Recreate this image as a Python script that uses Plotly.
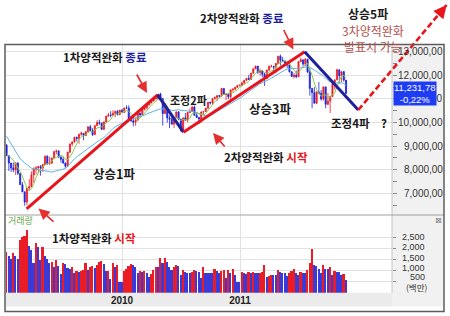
import pandas as pd
import plotly.graph_objects as go

W, H = 450, 316

# ---------------- data (weekly) ----------------
first_week = "2009-01-09"
# closes of the 20 weeks before the first visible week (only feed the moving averages)
pre_close = [11628, 11543, 11220, 11421, 11388, 11143, 10325, 8451, 8852, 8378,
             9325, 8943, 8497, 8046, 8829, 8635, 8629, 8579, 8515, 9034]

open_ = [9034, 8599, 8281, 8077, 8000, 8280, 7850, 7366, 7063, 6627,
         7224, 7278, 7776, 8018, 8083, 8131, 8076, 8212, 8575, 8268,
         8277, 8500, 8764, 8799, 8539, 8438, 8280, 8146, 8743, 9093,
         9171, 9370, 9321, 9505, 9544, 9441, 9605, 9820, 9665, 9487,
         9864, 9995, 9972, 9712, 10023, 10270, 10318, 10309, 10388, 10471,
         10328, 10520,
         10428, 10618, 10610, 10172, 10067, 10012, 10099, 10402, 10325, 10566,
         10625, 10742, 10850, 10927, 10997, 11019, 11204, 11009, 10380, 10620,
         10193, 10137, 9931, 10212, 10450, 10144, 9686, 10198, 10097, 10425,
         10466, 10654, 10303, 10214, 10150, 10448, 10462, 10608, 10860, 10829,
         11006, 11063, 11133, 11118, 11444, 11193, 11204, 11092, 11382, 11410,
         11492, 11573,
         11578, 11675, 11787, 11872, 11824, 12092, 12273, 12391, 12130, 12170,
         12044, 11859, 12221, 12377, 12380, 12342, 12505, 12810, 12638, 12596,
         12512, 12441, 12151, 11952, 12004, 11934, 12582, 12657, 12480, 12681,
         12143, 11445, 11269, 10818, 11285, 11240, 10992, 11509, 10771, 10913,
         11103, 11644, 11809, 12231, 11983, 12153, 11796]
high = [9088, 8600, 8290, 8300, 8315, 8320, 7860, 7480, 7063, 7240,
        7600, 7930, 8100, 8150, 8160, 8200, 8250, 8600, 8600, 8550,
        8500, 8800, 8850, 8800, 8560, 8560, 8300, 8760, 9100, 9200,
        9400, 9400, 9520, 9620, 9550, 9640, 9830, 9900, 9760, 9900,
        10100, 10120, 10000, 10050, 10290, 10410, 10480, 10520, 10500, 10530,
        10540, 10580,
        10620, 10730, 10730, 10300, 10310, 10200, 10420, 10410, 10590, 10640,
        10780, 10900, 10930, 11000, 11150, 11210, 11260, 11030, 10800, 10630,
        10300, 10340, 10220, 10470, 10480, 10150, 10200, 10400, 10430, 10590,
        10700, 10720, 10450, 10230, 10460, 10470, 10620, 10870, 10880, 11040,
        11100, 11160, 11170, 11450, 11450, 11240, 11230, 11400, 11450, 11520,
        11580, 11600,
        11740, 11800, 11880, 12020, 12100, 12280, 12400, 12391, 12280, 12230,
        12100, 12240, 12420, 12450, 12400, 12520, 12820, 12880, 12780, 12640,
        12530, 12570, 12160, 12110, 12200, 12590, 12750, 12660, 12740, 12690,
        12300, 11450, 11500, 11320, 11720, 11380, 11520, 11510, 11250, 11140,
        11650, 11810, 12280, 12240, 12160, 12190, 11800]
low = [8570, 7950, 7909, 7900, 7771, 7770, 7365, 7050, 6470, 6500,
       7100, 7270, 7450, 7800, 7850, 7750, 7900, 8200, 8200, 8200,
       8250, 8480, 8650, 8500, 8300, 8250, 8087, 8140, 8700, 9000,
       9150, 9200, 9100, 9440, 9250, 9430, 9600, 9650, 9430, 9480,
       9860, 9900, 9680, 9680, 10010, 10260, 10220, 10300, 10230, 10300,
       10320, 10420,
       10420, 10580, 10160, 10040, 9840, 9860, 10090, 10200, 10320, 10500,
       10560, 10730, 10800, 10880, 10990, 10980, 10970, 9870, 10360, 9990,
       9760, 9920, 9760, 10180, 10100, 9610, 9670, 10090, 10000, 10410,
       10460, 10300, 10200, 9940, 9990, 10330, 10460, 10590, 10760, 10740,
       10980, 10900, 11050, 11100, 11180, 10950, 10990, 10930, 11300, 11380,
       11460, 11530,
       11570, 11610, 11760, 11820, 11820, 12080, 12260, 12060, 11990, 11930,
       11550, 11850, 12200, 12330, 12190, 12090, 12480, 12410, 12560, 12480,
       12300, 12120, 11940, 11860, 11880, 11930, 12550, 12380, 12380, 12100,
       11140, 10600, 10800, 10780, 11230, 10930, 10930, 10600, 10730, 10400,
       11100, 11400, 11790, 11650, 11700, 11730, 11230]
close = [8599, 8281, 8077, 8000, 8280, 7850, 7366, 7063, 6627, 7224,
         7278, 7776, 8018, 8083, 8131, 8076, 8212, 8575, 8268, 8277,
         8500, 8764, 8799, 8539, 8438, 8280, 8146, 8743, 9093, 9171,
         9370, 9321, 9505, 9544, 9441, 9605, 9820, 9665, 9487, 9864,
         9995, 9972, 9712, 10023, 10270, 10318, 10309, 10388, 10471, 10328,
         10520, 10428,
         10618, 10610, 10172, 10067, 10012, 10099, 10402, 10325, 10566, 10625,
         10742, 10850, 10927, 10997, 11019, 11204, 11009, 10380, 10620, 10193,
         10137, 9931, 10212, 10450, 10144, 9686, 10198, 10097, 10425, 10466,
         10654, 10303, 10214, 10150, 10448, 10462, 10608, 10860, 10829, 11006,
         11063, 11133, 11118, 11444, 11193, 11204, 11092, 11382, 11410, 11492,
         11573, 11578,
         11675, 11787, 11872, 11824, 12092, 12273, 12391, 12130, 12170, 12044,
         11859, 12221, 12377, 12380, 12342, 12505, 12810, 12638, 12596, 12512,
         12441, 12151, 11952, 12004, 11934, 12582, 12657, 12480, 12681, 12143,
         11445, 11269, 10818, 11285, 11240, 10992, 11509, 10771, 10913, 11103,
         11644, 11809, 12231, 11983, 12153, 11796, 11232]
volume = [1850, 1650, 1500, 1775, 1650, 1500, 2380, 2500, 2560, 2830,
          2100, 1925, 1320, 2250, 2045, 1475, 2045, 1650, 1500, 1320,
          1370, 1170, 1475, 1200, 840, 1320, 1280, 1130, 1070, 1140,
          900, 990, 950, 990, 1020, 1350, 1020, 1140, 1220, 1100,
          1250, 1380, 1440, 1290, 980, 990, 620, 1320, 1140, 1250,
          500, 500,
          990, 1050, 1220, 1280, 1260, 1170, 900, 990, 950, 990,
          870, 690, 840, 1020, 1170, 1170, 1550, 1320, 1550, 1370,
          1170, 1020, 1140, 1250, 1220, 800, 1020, 950, 900,
          870, 950, 1020, 990, 950, 650, 1140, 870, 870, 870,
          870, 1070, 990, 900, 990, 1020, 680, 1020, 870, 1050,
          800, 500, 500,
          950, 870, 840, 950, 870, 950, 900, 870, 900, 920,
          1250, 720, 750, 800, 800, 800, 1020, 950, 900, 900,
          770, 870, 990, 1070, 870, 800, 920, 870, 870, 1020,
          1320, 1970, 1250, 1200, 1090, 870, 1250, 1090, 1070, 1170,
          800, 990, 950, 920, 800, 830, 570]

price_ticks = [13000, 12000, 11000, 10000, 9000, 8000, 7000]
price_tick_labels = ["13,000,00", "12,000,00", "11,000,00", "10,000,00",
                     "9,000,00", "8,000,00", "7,000,00"]
vol_ticks = [500, 1000, 1500, 2000, 2500]
vol_tick_labels = ["2,500", "2,000", "1,500", "1,000", "500", "(백만)"]
year_ticks = ["2010-01-01", "2011-01-01"]
year_labels = ["2010", "2011"]

# drawn wave lines (dates / index levels)
wave_dates = ["2009-03-12", "2010-04-21", "2010-07-10", "2011-07-20", "2012-01-02"]
wave_prices = [6340, 11170, 9590, 13000, 10530]
target_date, target_price = "2012-10-01", 14980
last_price_text = "11,231,78<br>-0,22%"

# ---------------- geometry (pixels of the 450x316 page) ----------------
PLOT_L, PLOT_R = 6, 392
PRICE_T, PRICE_B, VOL_B = 44.5, 215, 292.7
X_ANCHOR_PX, X_ANCHOR_DATE, PX_PER_DAY = 122, pd.Timestamp("2010-01-01"), 118 / 365
P_ANCHOR_PX, P_ANCHOR, PX_PER_PT = 51.7, 13000, 23.6 / 1000
VOL_PX_PER_UNIT = 11.08 / 500


def fx(px):
    return px / W


def fy(py):
    return 1 - py / H


def px2date(px):
    return (X_ANCHOR_DATE + pd.Timedelta(days=(px - X_ANCHOR_PX) / PX_PER_DAY)).strftime("%Y-%m-%d %H:%M:%S")


def py2price(py):
    return P_ANCHOR - (py - P_ANCHOR_PX) / PX_PER_PT


dates = pd.date_range(first_week, periods=len(close), freq="7D")
all_close = pd.Series(pre_close + close, dtype=float)
ma5 = all_close.rolling(5).mean().iloc[len(pre_close):].to_numpy()
ma20 = all_close.rolling(20).mean().iloc[len(pre_close):].to_numpy()

RED, BLUE = "#ec1c24", "#1c22d8"
vol_colors = [RED if i == 0 or volume[i] > volume[i - 1] else "#3a3ad6" for i in range(len(volume))]

KR = "Noto Sans CJK KR"
NUM = "Liberation Sans"

fig = go.Figure()
fig.add_trace(go.Candlestick(
    x=dates, open=open_, high=high, low=low, close=close,
    increasing=dict(line=dict(color=RED, width=0.8), fillcolor=RED),
    decreasing=dict(line=dict(color=BLUE, width=0.8), fillcolor=BLUE),
    whiskerwidth=0, xaxis="x", yaxis="y", hoverinfo="skip"))
fig.add_trace(go.Scatter(x=dates, y=ma20, mode="lines", line=dict(color="#5bb2e6", width=1),
                         xaxis="x", yaxis="y", hoverinfo="skip"))
fig.add_trace(go.Scatter(x=dates, y=ma5, mode="lines", line=dict(color="#8cc84b", width=1),
                         xaxis="x", yaxis="y", hoverinfo="skip"))
fig.add_trace(go.Bar(x=dates, y=volume, marker=dict(color=vol_colors, line=dict(width=0)),
                     width=5.0 * 86400000, xaxis="x2", yaxis="y2", hoverinfo="skip"))

# wave lines on a full-page overlay axis sharing the same scales
for i in range(len(wave_dates) - 1):
    col = "#e8141c" if wave_prices[i + 1] > wave_prices[i] else "#1f1f9c"
    fig.add_trace(go.Scatter(x=wave_dates[i:i + 2], y=wave_prices[i:i + 2], mode="lines",
                             line=dict(color=col, width=3), xaxis="x3", yaxis="y3", hoverinfo="skip"))
fig.add_trace(go.Scatter(x=[wave_dates[-1], target_date], y=[wave_prices[-1], target_price], mode="lines",
                         line=dict(color="#e8141c", width=2.6, dash="6px,3px"),
                         xaxis="x3", yaxis="y3", hoverinfo="skip"))

ann = []


def text(px, py, t, size, color="#1a1a1a", anchor="center", font=KR, weight="normal"):
    ann.append(dict(x=fx(px), y=fy(py), xref="paper", yref="paper", text=t, showarrow=False,
                    xanchor=anchor, yanchor="middle", borderpad=0,
                    font=dict(family=font, size=size, color=color, weight=weight)))


# price tick labels (right-aligned, placed by the price scale)
for v, lab in zip(price_ticks, price_tick_labels):
    if v == 11000:
        continue  # hidden behind the last-price box in the original
    ann.append(dict(x=fx(443.5), y=v, xref="paper", yref="y", text=lab, showarrow=False,
                    xanchor="right", yanchor="middle", borderpad=0,
                    font=dict(family=NUM, size=10, color="#333")))
# visible tail of the hidden 11,000 label
ann.append(dict(x=fx(443.5), y=11000, xref="paper", yref="y", text="00", showarrow=False,
                xanchor="right", yanchor="middle", borderpad=0, font=dict(family=NUM, size=10, color="#333")))
# volume tick labels (crowded, as in the original)
for py, lab in zip([236.5, 247, 257.5, 267.5, 276.5], vol_tick_labels[:5]):
    text(425.5, py, lab, 9, "#333", "right", NUM)
text(428.5, 286.5, vol_tick_labels[5], 8.5, "#333", "right", KR)

# last price box
ann.append(dict(x=fx(414.5), y=fy(93), xref="paper", yref="paper", text=last_price_text, showarrow=False,
                xanchor="center", yanchor="middle", bgcolor="#1f3cf5", borderpad=0,
                font=dict(family=NUM, size=9.5, color="white")))

NAVY, TRED, BROWN = "#1f1f9e", "#e8161b", "#b4504c"
B = "bold"
text(242, 18, f"2차양적완화 <span style='color:{NAVY}'>종료</span>", 11.5, weight=B)
text(105, 57, f"1차양적완화 <span style='color:{NAVY}'>종료</span>", 11.5, weight=B)
text(188.5, 100, "조정2파", 11, weight=B)
text(270, 108, "상승3파", 12.5, weight=B)
text(113.5, 173, "상승1파", 12.5, weight=B)
text(330, 123, "조정4파\u2003?", 11.5, anchor="left", weight=B)
text(265.5, 157, f"2차양적완화 <span style='color:{TRED}'>시작</span>", 11.5, weight=B)
text(94, 238, f"1차양적완화 <span style='color:{TRED}'>시작</span>", 11.5, weight=B)
text(367.5, 13, "상승5파", 12, weight=B)
text(372.5, 30, "3차양적완화", 12, BROWN)
text(373, 46, "발표시 가능", 12, BROWN)
text(7, 220, "거래량", 9, "#6aaa4a", "left")
text(438, 220, "⊠", 8, "#7a7a7a", "center", "DejaVu Sans")

# thin red pointer arrows
for tip, tail in [((147, 93), (136, 73)), ((293.3, 49.5), (283, 28.5)),
                  ((213, 133), (226, 148)), ((38.5, 208.5), (55, 223))]:
    ann.append(dict(x=fx(tip[0]), y=fy(tip[1]), xref="paper", yref="paper", text="", showarrow=True,
                    ax=tail[0] - tip[0], ay=tail[1] - tip[1], arrowhead=2, arrowsize=1.3,
                    arrowwidth=1.7, arrowcolor="#e53030"))
# head of the dashed projection arrow
ann.append(dict(x=target_date, y=target_price, xref="x3", yref="y3", text="", showarrow=True,
                ax=-9, ay=11, arrowhead=2, arrowsize=1, arrowwidth=2.6, arrowcolor="#e8141c"))

shapes = [
    dict(type="rect", xref="paper", yref="paper", x0=fx(392), x1=fx(443.5), y0=fy(306.5), y1=fy(45),
         fillcolor="#f1f1f1", line=dict(width=0), layer="below"),
    dict(type="rect", xref="paper", yref="paper", x0=fx(5.5), x1=fx(392), y0=fy(306.5), y1=fy(VOL_B),
         fillcolor="#ebebeb", line=dict(width=0), layer="below"),
    dict(type="line", xref="paper", yref="paper", x0=fx(392), x1=fx(392), y0=fy(VOL_B), y1=fy(PRICE_T),
         line=dict(color="#c4c4c4", width=1), layer="above"),
    dict(type="line", xref="paper", yref="paper", x0=fx(5), x1=fx(444), y0=fy(PRICE_B), y1=fy(PRICE_B),
         line=dict(color="#a0a0a0", width=1.2), layer="above"),
    dict(type="rect", xref="paper", yref="paper", x0=fx(5), x1=fx(444), y0=fy(311.5), y1=fy(PRICE_T),
         fillcolor="rgba(0,0,0,0)", line=dict(color="#5c5c5c", width=1.5), layer="above"),
]

grid = "#e2e2e2"
fig.update_layout(
    width=W, height=H, margin=dict(l=0, r=0, t=0, b=0),
    paper_bgcolor="white", plot_bgcolor="rgba(0,0,0,0)", showlegend=False,
    xaxis=dict(domain=[fx(PLOT_L), fx(PLOT_R)], range=[px2date(PLOT_L), px2date(PLOT_R)], type="date",
               anchor="y", tickmode="array", tickvals=year_ticks, showticklabels=False, ticks="",
               showgrid=True, gridcolor=grid, zeroline=False, showline=False,
               rangeslider=dict(visible=False)),
    yaxis=dict(domain=[fy(PRICE_B), fy(PRICE_T)], range=[py2price(PRICE_B), py2price(PRICE_T)],
               anchor="x", side="right", tickmode="array", tickvals=price_ticks, showticklabels=False,
               ticks="outside", ticklen=4, tickcolor="#8a8a8a", showgrid=True, gridcolor=grid,
               zeroline=False, showline=False,
               minor=dict(dtick=500, tick0=6500, ticks="outside", ticklen=4, tickcolor="#8a8a8a", showgrid=False)),
    xaxis2=dict(domain=[fx(PLOT_L), fx(PLOT_R)], matches="x", type="date", anchor="y2",
                tickmode="array", tickvals=year_ticks, ticktext=year_labels, ticks="",
                tickfont=dict(family=NUM, size=10, color="#222", weight="bold"),
                showgrid=True, gridcolor=grid, zeroline=False, showline=False,
                rangeslider=dict(visible=False)),
    yaxis2=dict(domain=[fy(VOL_B), fy(PRICE_B)], range=[0, (VOL_B - PRICE_B) / VOL_PX_PER_UNIT],
                anchor="x2", side="right", tickmode="array", tickvals=vol_ticks, showticklabels=False,
                ticks="outside", ticklen=3, tickcolor="#8a8a8a", showgrid=True, gridcolor=grid,
                zeroline=False, showline=False),
    xaxis3=dict(domain=[0, 1], range=[px2date(0), px2date(W)], type="date", anchor="y3", visible=False),
    yaxis3=dict(domain=[0, 1], range=[py2price(H), py2price(0)], anchor="x3", visible=False),
    bargap=0, annotations=ann, shapes=shapes,
)

fig.write_html("out.html")
